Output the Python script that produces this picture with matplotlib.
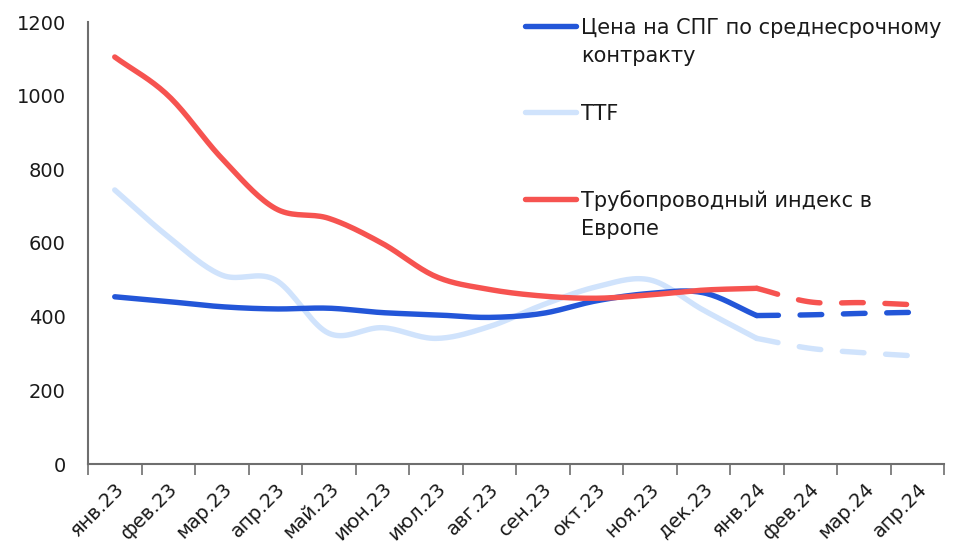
import numpy as np
import matplotlib.pyplot as plt
from matplotlib.lines import Line2D

plt.rcParams['font.family'] = ['DejaVu Sans']

months = ['янв.23', 'фев.23', 'мар.23', 'апр.23', 'май.23', 'июн.23', 'июл.23', 'авг.23',
          'сен.23', 'окт.23', 'ноя.23', 'дек.23', 'янв.24', 'фев.24', 'мар.24', 'апр.24']
lng = [454, 441, 427, 421, 423, 411, 405, 398, 409, 443, 463, 465, 403, 405, 409, 412]
ttf = [744, 617, 513, 500, 355, 370, 341, 373, 432, 481, 500, 418, 341, 314, 302, 293]
pipe = [1105, 1000, 830, 694, 667, 599, 509, 474, 456, 450, 459, 472, 477, 440, 438, 432]
n_fact = 13  # янв.23 .. янв.24 fact, rest forecast

c_blue = '#2356D8'
c_light = '#D0E3FC'
c_red = '#F65350'


def smooth(x, y, k=20):
    # catmull-rom, like excel "smoothed line"
    x = np.asarray(x, float)
    y = np.asarray(y, float)
    px = np.concatenate([[2 * x[0] - x[1]], x, [2 * x[-1] - x[-2]]])
    py = np.concatenate([[2 * y[0] - y[1]], y, [2 * y[-1] - y[-2]]])
    xs, ys = [], []
    t = np.linspace(0, 1, k)
    for i in range(1, len(px) - 2):
        for p, out in ((px, xs), (py, ys)):
            p0, p1, p2, p3 = p[i - 1], p[i], p[i + 1], p[i + 2]
            out.extend(0.5 * (2 * p1 + (-p0 + p2) * t + (2 * p0 - 5 * p1 + 4 * p2 - p3) * t ** 2
                              + (-p0 + 3 * p1 - 3 * p2 + p3) * t ** 3))
    return np.array(xs), np.array(ys)


fig = plt.figure(figsize=(9.8, 5.52), dpi=100)
ax = fig.add_axes([88 / 980, 1 - 464 / 552, (944 - 88) / 980, (464 - 22) / 552])

x = np.arange(len(months))
for vals, col in ((ttf, c_light), (lng, c_blue), (pipe, c_red)):
    sx, sy = smooth(x[:n_fact], vals[:n_fact])
    ax.plot(sx, sy, color=col, lw=3.9, solid_capstyle='round')
    sx, sy = smooth(x[n_fact - 1:], vals[n_fact - 1:])
    ax.plot(sx, sy, color=col, lw=3.9, dashes=(4, 4), dash_capstyle='round')

ax.set_xlim(-0.5, len(months) - 0.5)
ax.set_ylim(0, 1200)
ax.set_yticks(range(0, 1201, 200))
ax.tick_params(axis='y', length=0, labelsize=14, pad=16, labelcolor='#1a1a1a')
ax.set_xticks(x)
ax.set_xticklabels(months, rotation=45, ha='right', rotation_mode='anchor', fontsize=14,
                   color='#1a1a1a')
ax.tick_params(axis='x', which='major', length=0, pad=11)
ax.set_xticks(np.arange(-0.5, len(months), 1), minor=True)
ax.tick_params(axis='x', which='minor', length=8, color='#6e6e6e', width=1.2)
for s in ['top', 'right']:
    ax.spines[s].set_visible(False)
for s in ['left', 'bottom']:
    ax.spines[s].set_color('#6e6e6e')
    ax.spines[s].set_linewidth(1.5)

# legend
leg = [(c_blue, 26, ['Цена на СПГ по среднесрочному', 'контракту']),
       (c_light, 112, ['TTF']),
       (c_red, 199, ['Трубопроводный индекс в', 'Европе'])]
for col, yp, lines in leg:
    yf = 1 - yp / 552
    fig.add_artist(Line2D([525 / 980, 576 / 980], [yf, yf], color=col, lw=3.9,
                          solid_capstyle='round', transform=fig.transFigure))
    for i, txt in enumerate(lines):
        fig.text(581 / 980, 1 - (yp + 8 + 28 * i) / 552, txt, fontsize=15,
                 va='baseline', ha='left', color='#1a1a1a')

fig.savefig('out.png', dpi=100)
